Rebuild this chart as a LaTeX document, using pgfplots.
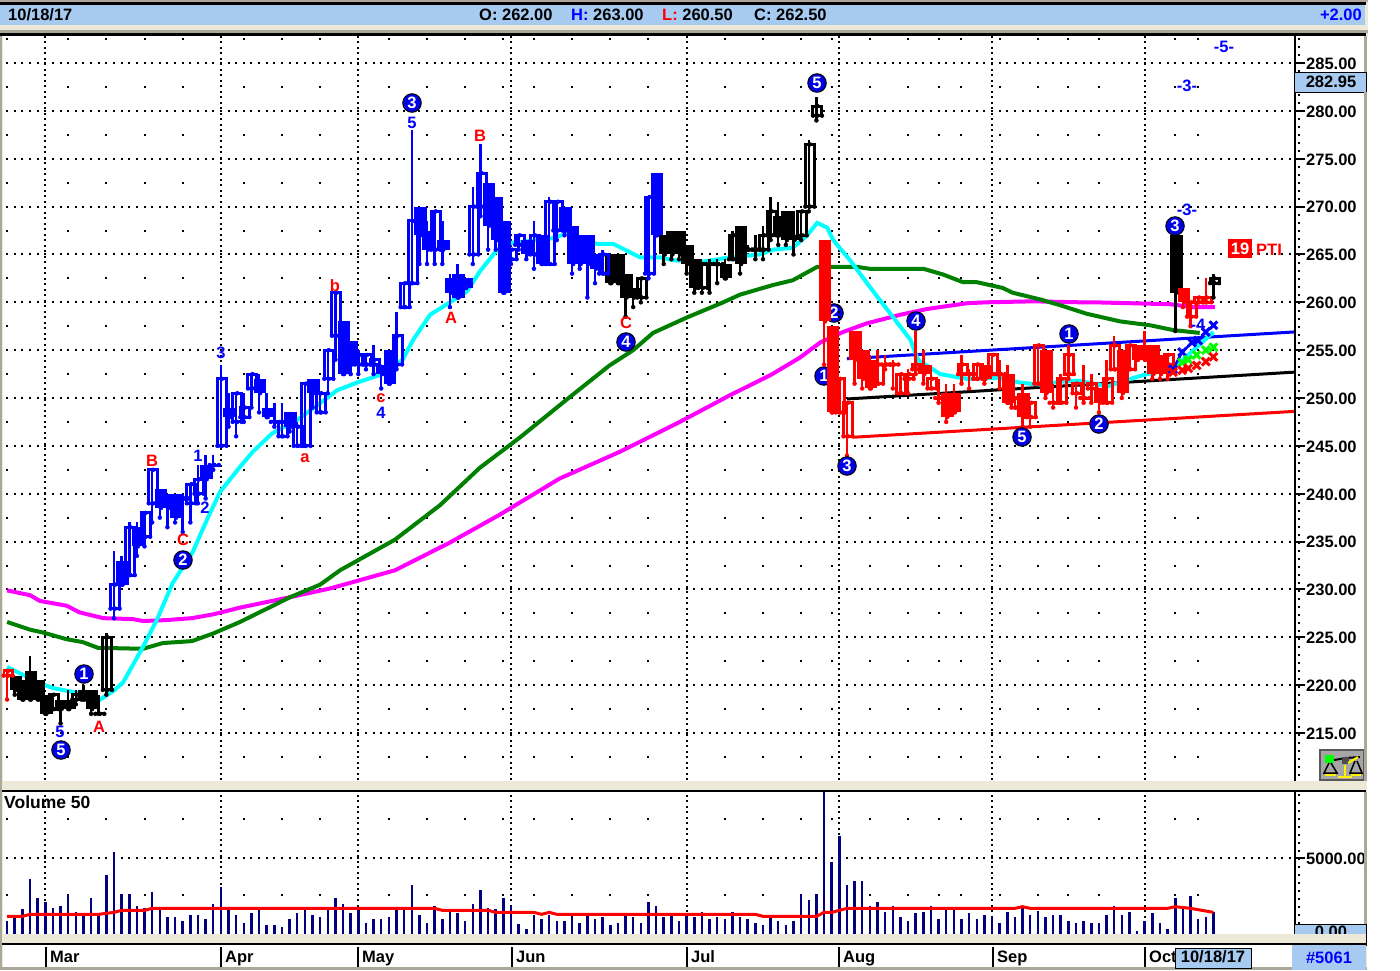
\documentclass[border=0pt]{standalone}
\usepackage{fontspec}
\setmainfont{Liberation Sans}
\usepackage{pgfplots}
\usepackage{pgfplotstable}
\pgfplotsset{compat=1.18}

\definecolor{panelblue}{HTML}{A6CAF0}
\definecolor{beige}{HTML}{ECE9D8}
\definecolor{framegray}{HTML}{ACA899}
\definecolor{navy}{HTML}{000080}
\definecolor{dkgreen}{HTML}{008000}
\definecolor{discblue}{HTML}{0000E6}
\definecolor{macyan}{HTML}{00FFFF}
\definecolor{mamagenta}{HTML}{FF00FF}
\definecolor{xgreen}{HTML}{00FF00}

% bars: index, open, high, low, close
\pgfplotstableread{
i o h l c
1 221 221 219 219.5
2 220.5 220.5 218.5 218.5
3 221.5 223 218.5 218.5
4 220.5 220.5 218.5 218.5
5 219 219 217 217
7 218.5 218.5 216 217.5
8 218.5 219.5 217.5 217.5
10 219.5 220 218.5 218.5
11 219.5 219.5 217 217.5
79 265 265 262 262
80 265 265 262 262
81 263 263 258.5 260.5
82 261.5 261.5 259.5 260.5
86 267 267 264 265
87 267.5 267.5 264.5 265
88 267.5 267.5 264.5 265
89 266 266 263 264
90 264.5 264.5 261 261.5
94 264 264.5 262.5 262.5
96 268 268 263 264
101 269 270.5 266 267
102 269.5 269.5 266 266.5
103 267 269.5 265 266.5
153 267 267 257 261
}\blackdown
\pgfplotstableread{
i o h l c
6 217.5 219 217.5 219
9 218.5 219.5 218 219
12 217 219 217 217
13 219.5 225.5 219 225
83 260.5 262.5 260 262.5
91 261.5 264 261 264
92 264 264.5 261 264
93 264 264.5 262 264
95 264.5 267.5 264.5 267
97 265.5 266 265.5 265.5
98 265.5 267 264.5 265.5
99 265.5 268 264.5 267
100 267 271 266.5 269.5
104 267 269.5 266.5 269.5
105 270 277 269.5 276.5
106 279.5 281.5 279 280.5
158 262 263 260.5 262.5
}\blackup
\pgfplotstableread{
i o h l c
15 233 233.5 230.5 230.5
17 236.5 237 233.5 234.5
20 240.5 240.5 237.5 238.5
21 240 240 236.5 238.5
22 240 240 237 237.5
26 243 244 239.5 241.5
29 249 250.5 247 248
33 252 252.5 248.5 250.5
34 249 250.5 248 248
37 248.5 248.5 246.5 247
40 252 252 249 250.5
44 258 258 252.5 252.5
45 256 256 252.5 253.5
49 253.5 253.5 251 252.5
50 255 255 251.5 251.5
54 270 270 264 267
55 267.5 268.5 264 265.5
57 266.5 268.5 264 265.5
58 262.5 263 259.5 261
59 263 264 260.5 260.5
60 262.5 262.5 261.5 261.5
63 272.5 272.5 265.5 268
64 271 271 265.5 266.5
65 268.5 268.5 261 261
68 266.5 266.5 264.5 265
70 267 267 264 264
73 270 270 267 267.5
74 268 268 263 264
75 267 267 263.5 264
76 267 267 260.5 264
77 265 265 262 263.5
85 273.5 273.5 267 267
}\bluedown
\pgfplotstableread{
i o h l c
14 228 234 227 230.5
16 231.5 237 231.5 236.5
18 235.5 238 234.5 238
19 239 242.5 237 242.5
23 239.5 240 236 239.5
24 239 241 237 241
25 240 243 239 241.5
27 243 244 242.5 243
28 245 253.5 245 252
30 247.5 250.5 246 250.5
31 248 250.5 247.5 249
32 251 252.5 249 252.5
35 247.5 249.5 247 247.5
36 246 249.5 246 247.5
38 245 247.5 245 247
39 245 251.5 245 251.5
41 248.5 250.5 248.5 250.5
42 252 255 250.5 255
43 256.5 261 254 261
46 253.5 255 252.5 254.5
47 253.5 254.5 253 254.5
48 253.5 255.5 252.5 254
51 253.5 259 253 256.5
52 259.5 262 259.5 262
53 262 278 262 268.5
56 265.5 269.5 264 269.5
61 265 272 264 270
62 270 276.5 269 273.5
66 264.5 265.5 264 265.5
67 266 267 265.5 267
69 265 268.5 263.5 267
71 264 271 264 270.5
72 267.5 270.5 266.5 270.5
78 263 265.5 263 265
84 263 271 262.5 271
}\blueup
\pgfplotstableread{
i o h l c
107 266.5 266.5 253.5 258
108 257.5 257.5 248.5 248.5
111 257 257 251.5 254
112 255 255 251 252
113 254 254.5 251 251
120 253.5 255 251.5 252.5
123 250.5 251.5 247.5 248
124 250.5 251.5 248.5 248.5
128 253.5 253.5 251.5 252
131 252.5 253.5 249.5 249.5
133 250.5 251.5 247 248
136 255 255 250 250.5
143 251 251 248.5 249.5
146 255 255 250 250.5
148 255.5 255.5 254 254
149 255.5 257 254 254
150 255.5 255.5 252 252.5
151 254.5 254.5 252 252.5
154 261.5 261.5 259.5 260
}\reddown
\pgfplotstableread{
i o h l c
0 221 221.5 218.5 221.5
109 248.5 252 248.5 252
110 246 249.5 244 249.5
114 251.5 255 251.5 253.5
115 253.5 254.5 253 253.5
116 253.5 254 251 253.5
117 250.5 252.5 250.5 252.5
118 252 253 250.5 252.5
119 253 257 252.5 253.5
121 251 253.5 251 252
122 250 252 249.5 250
125 252.5 254.5 251.5 253.5
126 252.5 253 251 252.5
127 252 253.5 252 253.5
129 252.5 254.5 252.5 254.5
130 252.5 254 251 252.5
132 249 250 249 250
134 248 249.5 247 249.5
135 251.5 255.5 251.5 255.5
137 249.5 251.5 249 249.5
138 249.5 252.5 249.5 252
139 252.5 255.5 252 254.5
140 250.5 251.5 249 251.5
141 250 253.5 249.5 250
142 251 252.5 249.5 251.5
144 249.5 254 249.5 252
145 253 256.5 253 255.5
147 253 255.5 253 255.5
152 253.5 254.5 252 254.5
155 258.5 260 257.5 260
156 260 260.5 260 260.5
157 260 262.5 260 260.5
}\redup

\pgfplotsset{
  ebar/.style={only marks,mark=none,#1,forget plot,error bars/error mark=none,
    error bars/error mark options={draw=none,mark size=0pt}},
}
\newcommand\wicks[2]{
  \addplot[ebar=#2,error bars/.cd,y dir=plus,y explicit,error bar style={#2,line width=2.5pt}]
    table[x=i,y=l,y error plus expr=\thisrow{h}-\thisrow{l}] {#1};
}
\newcommand\downbodies[2]{
  \wicks{#1}{#2}
  \addplot[ebar=#2,error bars/.cd,y dir=plus,y explicit,error bar style={#2,line width=12.5pt}]
    table[x expr=\thisrow{i}+0.14,y=c,y error plus expr=\thisrow{o}-\thisrow{c}] {#1};
}
% open boxes: no fill, the grid and averages show through
\newcommand\upbodies[2]{
  \wicks{#1}{#2}
  \addplot[ebar=#2,error bars/.cd,y dir=plus,y explicit,error bar style={#2,line width=3pt,line cap=rect}]
    table[x expr=\thisrow{i}-0.45,y=o,y error plus expr=\thisrow{c}-\thisrow{o}] {#1};
  \addplot[ebar=#2,error bars/.cd,y dir=plus,y explicit,error bar style={#2,line width=3pt,line cap=rect}]
    table[x expr=\thisrow{i}+0.73,y=o,y error plus expr=\thisrow{c}-\thisrow{o}] {#1};
  \addplot[ebar=#2,error bars/.cd,x dir=both,x explicit,error bar style={#2,line width=3pt}]
    table[x expr=\thisrow{i}+0.14,y=o,x error expr=0.59] {#1};
  \addplot[ebar=#2,error bars/.cd,x dir=both,x explicit,error bar style={#2,line width=3pt}]
    table[x expr=\thisrow{i}+0.14,y=c,x error expr=0.59] {#1};
}

\newcommand\disc[3]{\node[circle,fill=discblue,draw=black,line width=1pt,minimum size=18.5pt,inner sep=0pt,
  text=white,font=\bigfont] at (#1pt,-#2pt) {#3};}
\newcommand\txt[4]{\node[text=#3,font=\bigfont,inner sep=0pt] at (#1pt,-#2pt) {#4};}
\newcommand\bigfont{\fontsize{16.5}{18}\selectfont\bfseries}

\pgfplotsset{
  panel/.style={
    scale only axis,width=1291pt,anchor=south west,
    xmin=-0.537,xmax=168.55,
    xtick={5,28,46,66,89,109,129,149},xticklabels={},
    minor xtick={0,8,13,18,23,31,36,41,50,55,60,65,69,74,79,84,94,99,104,108,113,118,122,125,130,135,139,143,153,156},
    xmajorgrids=true,xminorgrids=true,ymajorgrids=true,
    major x grid style={black,line width=2pt,dash pattern=on 2pt off 3.5pt},
    major y grid style={black,line width=2pt,dash pattern=on 2pt off 5.635pt,dash phase=4.5pt},
    axis line style={draw=none},
    x tick style={draw=none},minor x tick style={draw=none},
    ytick pos=right,tick align=outside,
    major tick length=11pt,minor tick length=0pt,
    y tick style={black,line width=2pt},
    yticklabel pos=right,
    yticklabel style={font=\bigfont,black,inner sep=0pt,xshift=1pt,yshift=-0.7pt},
    /pgf/number format/.cd,fixed,fixed zerofill,precision=2,1000 sep={},assume math mode=true,
  },
}

\begin{document}
\begin{tikzpicture}
\path[use as bounding box] (0,0) rectangle (1400pt,-970pt);
\fill[white] (0,0) rectangle (1400pt,-970pt);
% frame and strips
\fill[beige] (0,0) rectangle (1368pt,-970pt);
\fill[framegray] (0,0) rectangle (1368pt,-2pt);
\fill[black] (0,-2pt) rectangle (1366pt,-5pt);
\fill[panelblue] (0,-5pt) rectangle (1365pt,-25pt);
\fill[framegray] (0,-30pt) rectangle (1368pt,-33pt);
\fill[black] (0,-33pt) rectangle (1366pt,-36pt);
\fill[white] (3pt,-36pt) rectangle (1364pt,-781pt);
\fill[black] (0,-790pt) rectangle (1366pt,-792pt);
\fill[white] (3pt,-792pt) rectangle (1364pt,-934pt);
\fill[black] (0,-943pt) rectangle (1366pt,-945pt);
\fill[white] (3pt,-945pt) rectangle (1364pt,-967pt);
\fill[framegray] (0,-967pt) rectangle (1368pt,-970pt);
\fill[framegray] (0,-36pt) rectangle (2pt,-970pt);

% these two stand behind the candles
\disc{834}{313}{2}
\disc{824}{376}{1}

\begin{axis}[panel,at={(3pt,-780pt)},height=744pt,
    ymin=210.09,ymax=287.82,ytick={215,220,...,285},
    minor x grid style={black,line width=2pt,dash pattern=on 2pt off 45.86pt,dash phase=25.86pt}]
  % channel lines
  \addplot[blue,line width=3pt] coordinates {(110,254.1) (168.55,256.9)};
  \addplot[black,line width=3pt] coordinates {(110,249.9) (168.55,252.7)};
  \addplot[red,line width=3pt] coordinates {(110.8,245.9) (168.55,248.6)};
  % moving averages
  \addplot[mamagenta,line width=4pt] coordinates {
    (0,229.9) (3,229.4) (4.3,228.8) (7.8,228.3) (9.5,227.6) (12.6,227) (16.5,226.9) (17.8,226.7) (20.9,226.8)
    (24.2,227) (27,227.4) (30.5,228.1) (37.1,229.2) (42.3,230.1) (50.8,232) (58,234.9) (64.5,237.8) (72.4,241.6)
    (80.3,244.4) (88.1,247.5) (94.7,250.3) (100,252.4) (103.8,254.2) (106.5,255.8) (109.5,256.9) (112.6,257.8)
    (117,258.7) (120.5,259.3) (125.7,259.9) (128.3,260) (134.4,260.1) (140.5,260) (142.2,260) (152.3,259.8)
    (155.3,259.5) (158.2,259.5)};
  \addplot[dkgreen,line width=4pt] coordinates {
    (0,226.6) (3,225.8) (4.7,225.5) (7.8,224.8) (9.9,224.5) (11.9,223.9) (17.8,223.8) (20.4,224.4) (24.2,224.6)
    (27,225.4) (30.5,226.6) (37.1,229.2) (41,230.5) (43.6,232) (50.8,235.2) (56.7,238.8) (61.9,242.7) (67.2,245.9)
    (73.7,250.1) (78.9,253.4) (82,255) (84.6,256.8) (89,258.4) (93.8,260) (96,260.8) (100.3,261.8) (102.9,262.3)
    (106.1,263.7) (111.3,263.7) (113,263.5) (120,263.5) (122.6,262.9) (125.2,262.1) (127,262.1) (130.4,261.5)
    (131.7,261) (135.3,260.3) (137.9,259.7) (141.4,258.8) (145.8,258) (149.7,257.6) (152.7,257.1) (156.2,256.8)};
  \addplot[macyan,line width=4pt] coordinates {
    (0,221.9) (4.3,220.2) (6,219.7) (9.2,219.2) (12.2,218.5) (14.1,219.5) (15.2,220.3) (17.8,224) (19.6,226.8)
    (21.7,230.7) (24.3,233.9) (26.3,237.5) (27.9,240.2) (30.5,242.8) (32.2,244.4) (34.7,246.3) (38,247.7) (41.9,250)
    (43.2,250.8) (45.8,251.6) (48.8,252.4) (51.8,254) (53.2,256.1) (55.4,258.7) (58,260) (60.2,261.1) (61.9,263.2)
    (64.2,265.5) (66.1,266.2) (71.5,266.7) (73.3,267.2) (77.3,266.1) (79.4,266.1) (82.9,264.7) (85.5,264.7)
    (87.2,264.4) (90.8,264.2) (94.7,264.7) (98.6,265) (100.3,265.5) (102.9,265.7) (104.8,267) (106.1,268.3)
    (107.4,267.8) (108.2,266.5) (110.4,264.4) (113,261.6) (115.6,258.9) (118.3,256.1) (119.3,254) (122.2,252.5)
    (125.7,252) (130,252.1) (132.7,251.6) (135.3,251.4) (137.9,251.7) (140.5,251.8) (144.1,251.2) (146.7,251.9)
    (148.8,252.4) (151.9,252.9) (154,254) (158,256.9)};
  % candles
  \downbodies{\blackdown}{black}
  \upbodies{\blackup}{black}
  \downbodies{\bluedown}{blue}
  \upbodies{\blueup}{blue}
  \downbodies{\reddown}{red}
  \upbodies{\redup}{red}
  % projection crosses
  \addplot[blue,line width=2.5pt,mark=x,mark size=5.5pt,mark options={line width=3pt}] coordinates {(152.7,253) (153.9,254.8) (155.2,255.8) (156,256) (157,256.9) (158,257.6)};
  \addplot[xgreen,only marks,mark=x,mark size=5.5pt,mark options={line width=3pt}] coordinates {(153.9,253.7) (154.7,254) (155.8,254.5) (157,255) (158,255.3)};
  \addplot[red,only marks,mark=x,mark size=5.5pt,mark options={line width=3pt}] coordinates {(152.7,252.7) (153.9,252.9) (154.7,253.1) (155.8,253.4) (157,253.8) (158,254.3)};
\end{axis}

\begin{axis}[panel,at={(3pt,-934pt)},height=142pt,
    ymin=0,ymax=9344,ytick={5000},
    minor x grid style={black,line width=2pt,dash pattern=on 2pt off 74pt,dash phase=38pt}]
  \addplot[ycomb,navy,line width=2.5pt,no markers] coordinates {
    (0,855) (1,1097) (2,1623) (3,3618) (4,2347) (5,2083) (6,1732) (7,1842) (8,2610) (9,1469)
    (10,1360) (11,2368) (12,1294) (13,3882) (14,5395) (15,2610) (16,2610) (17,1842) (18,1732) (19,2741)
    (20,1623) (21,1118) (22,1118) (23,855) (24,1250) (25,1228) (26,965) (27,1974) (28,3070) (29,1623)
    (30,1228) (31,724) (32,1360) (33,1623) (34,614) (35,614) (36,482) (37,965) (38,1360) (39,1623)
    (40,1250) (41,1118) (42,1623) (43,2368) (44,1974) (45,1360) (46,1623) (47,724) (48,987) (49,987)
    (50,1118) (51,1623) (52,1623) (53,3246) (54,1228) (55,724) (56,1864) (57,987) (58,1469) (59,1360)
    (60,855) (61,1974) (62,2895) (63,1732) (64,1623) (65,2368) (66,1864) (67,658) (68,351) (69,1228)
    (70,987) (71,1250) (72,855) (73,855) (74,1360) (75,724) (76,1250) (77,987) (78,1118) (79,614)
    (80,724) (81,1250) (82,1118) (83,724) (84,2105) (85,1864) (86,1118) (87,1250) (88,855) (89,1250)
    (90,1118) (91,1469) (92,987) (93,1118) (94,987) (95,1469) (96,1118) (97,987) (98,724) (99,614)
    (100,1097) (101,855) (102,614) (103,855) (104,2610) (105,2237) (106,2610) (107,9500) (108,4737) (109,6469)
    (110,3246) (111,3487) (112,3487) (113,1864) (114,2105) (115,1469) (116,1864) (117,1097) (118,855) (119,1360)
    (120,1469) (121,1864) (122,987) (123,1623) (124,1623) (125,987) (126,1360) (127,987) (128,1228) (129,1097)
    (130,724) (131,1469) (132,1097) (133,1689) (134,1228) (135,1513) (136,1097) (137,1228) (138,1228) (139,855)
    (140,724) (141,855) (142,724) (143,724) (144,1228) (145,1864) (146,1228) (147,1469) (148,219) (149,855)
    (150,1360) (151,724) (152,351) (153,2368) (154,1864) (155,2478) (156,987) (157,1118) (158,1469)};
  \addplot[red,line width=3pt] coordinates {
    (0,1162) (2,1162) (3,1294) (12,1294) (14,1425) (15,1557) (18,1557) (19,1689) (56,1689) (57,1557) (63,1557)
    (64,1425) (69,1425) (70,1294) (71,1425) (72,1294) (98,1294) (99,1162) (106,1162) (107,1425) (108,1425)
    (110,1689) (132,1689) (133,1798) (134,1689) (152,1689) (153,1798) (155,1689) (156,1600) (158,1425)};
\end{axis}

% scale column
\fill[black] (1294pt,-36pt) rectangle (1296pt,-781pt);
\fill[black] (1294pt,-792pt) rectangle (1296pt,-934pt);
\draw[black,line width=2.5pt,dash pattern=on 2pt off 6pt] (1299pt,-38pt) -- (1299pt,-780pt);
\draw[black,line width=2.5pt,dash pattern=on 2pt off 6pt] (1299pt,-794pt) -- (1299pt,-924pt);

% header
\node[anchor=west,font=\bigfont,inner sep=0pt] at (8pt,-14.5pt) {10/18/17};
\node[anchor=west,font=\bigfont,inner sep=0pt] at (479pt,-14.5pt) {O: 262.00};
\node[anchor=west,font=\bigfont,inner sep=0pt] at (571pt,-14.5pt) {\textcolor{blue}{H:} 263.00};
\node[anchor=west,font=\bigfont,inner sep=0pt] at (662pt,-14.5pt) {\textcolor{red}{L:} 260.50};
\node[anchor=west,font=\bigfont,inner sep=0pt] at (754pt,-14.5pt) {C: 262.50};
\node[anchor=east,font=\bigfont,inner sep=0pt,text=blue] at (1362pt,-14.5pt) {+2.00};

% wave counts and letters
\disc{61}{750}{5}\disc{84}{674}{1}\disc{183}{560}{2}\disc{412}{103}{3}\disc{626}{342}{4}
\disc{817}{83}{5}\disc{847}{466}{3}\disc{916}{321}{4}\disc{1022}{437}{5}\disc{1069}{334}{1}
\disc{1099}{424}{2}\disc{1175}{226}{3}
\txt{99}{727}{red}{A}\txt{152}{461}{red}{B}\txt{183}{540}{red}{C}\txt{305}{458}{red}{a}
\txt{335}{286}{red}{b}\txt{381}{398}{red}{c}\txt{451}{318}{red}{A}\txt{480}{136}{red}{B}\txt{626}{323}{red}{C}
\txt{60}{732}{blue}{5}\txt{198}{456}{blue}{1}\txt{205}{508}{blue}{2}\txt{221}{353}{blue}{3}
\txt{381}{413}{blue}{4}\txt{412}{123}{blue}{5}
\txt{1224}{47}{blue}{-5-}\txt{1187}{86}{blue}{-3-}\txt{1187}{210}{blue}{-3-}\txt{1198}{325}{blue}{-4}
\fill[red] (1228pt,-239pt) rectangle (1252pt,-258pt);
\txt{1240}{249}{white}{19}
\txt{1269}{250}{red}{PTI}
\node[anchor=west,font=\fontsize{17.5}{18}\selectfont\bfseries,inner sep=0pt] at (4pt,-802pt) {Volume 50};

% price and volume boxes
\fill[panelblue,draw=black,line width=1pt] (1294.5pt,-72pt) rectangle (1366pt,-92pt);
\node[font=\bigfont,inner sep=0pt] at (1331pt,-82pt) {282.95};
\fill[panelblue,draw=black,line width=1pt] (1294.5pt,-924pt) rectangle (1366pt,-945pt);
\node[font=\bigfont,inner sep=0pt] at (1331pt,-932pt) {0.00};
\fill[beige] (1294pt,-934pt) rectangle (1366pt,-943pt);
\fill[black] (1294pt,-943pt) rectangle (1366pt,-945pt);

% scales icon
\fill[black!35,draw=black!65,line width=1.5pt] (1320pt,-750pt) rectangle (1364pt,-780pt);
\fill[green] (1325pt,-755pt) rectangle (1334pt,-763pt);
\draw[black,line width=2pt] (1334pt,-760pt) -- (1346pt,-758pt) -- (1360pt,-757pt);
\fill[black!70] (1342pt,-757pt) rectangle (1349pt,-764pt);
\draw[yellow,line width=2.5pt] (1345pt,-765pt) -- (1345pt,-778pt) (1338pt,-777pt) -- (1352pt,-777pt);
\draw[black,line width=1.5pt] (1329pt,-763pt) -- (1324pt,-773pt) -- (1337pt,-773pt) -- (1331pt,-763pt);
\draw[black,line width=1.5pt] (1355pt,-761pt) -- (1350pt,-773pt) -- (1362pt,-773pt) -- (1357pt,-761pt);
\draw[yellow,line width=2.5pt] (1325pt,-775pt) -- (1336pt,-775pt) (1351pt,-775pt) -- (1361pt,-775pt);
\draw[yellow,line width=2pt] (1348pt,-763pt) -- (1358pt,-757pt);

% time axis
\foreach \x/\m in {46/Mar,221/Apr,358/May,512/Jun,687/Jul,839/Aug,993/Sep,1145/Oct}{
  \fill[black] (\x pt-1pt,-947pt) rectangle (\x pt+1pt,-967pt);
  \node[anchor=base west,font=\bigfont,inner sep=0pt] at (\x pt+4pt,-962pt) {\m};
}
\fill[panelblue,draw=black,line width=1pt] (1175.5pt,-948pt) rectangle (1251pt,-968pt);
\node[font=\bigfont,inner sep=0pt] at (1213pt,-956.5pt) {10/18/17};
\fill[panelblue] (1292pt,-945pt) rectangle (1366pt,-970pt);
\node[font=\bigfont,inner sep=0pt,text=blue] at (1329pt,-958pt) {\#5061};

% right edge of the window cuts off the tick label
\fill[framegray] (1364pt,-36pt) rectangle (1367pt,-72pt);
\fill[framegray] (1364pt,-92pt) rectangle (1367pt,-781pt);
\fill[framegray] (1364pt,-792pt) rectangle (1367pt,-924pt);
\fill[white] (1367pt,-36pt) rectangle (1400pt,-970pt);
\fill[white] (1368pt,0pt) rectangle (1400pt,-36pt);
\end{tikzpicture}
\end{document}
